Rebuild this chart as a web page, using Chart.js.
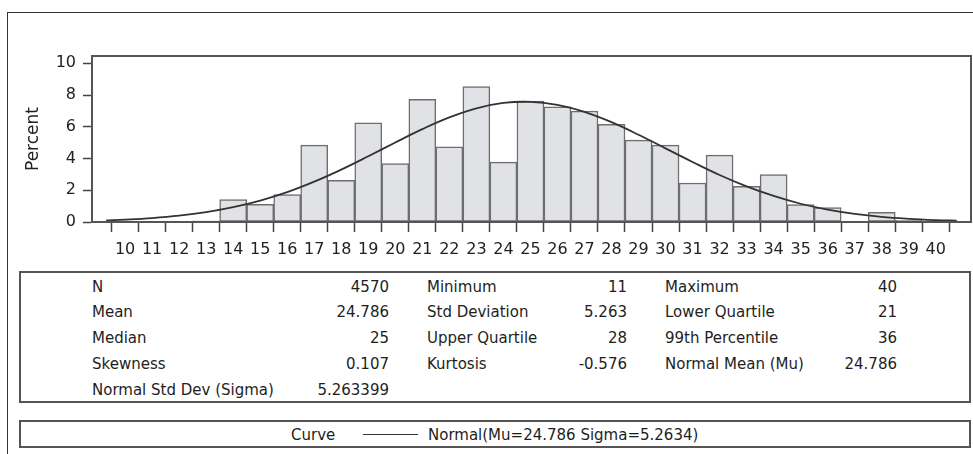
<!DOCTYPE html>
<html lang="en">
<head>
    <meta charset="UTF-8">
    <title>Distribution of Score</title>
    <script src="https://cdn.jsdelivr.net/npm/chart.js"></script>
    <style>
        html, body { margin: 0; padding: 0; background: #fff; overflow: hidden; }
        body { width: 973px; height: 454px; position: relative; font-family: "DejaVu Sans", sans-serif; color: #1e1e1e; }
        #outer { position: absolute; left: 7px; top: 12px; width: 990px; height: 500px; border: 1.5px solid #333; box-sizing: border-box; }
        #chartBox { position: absolute; left: 0; top: 0; }
        .box { position: absolute; left: 19px; width: 952px; border: 2px solid #555; box-sizing: border-box; }
        .cell { position: absolute; font-size: 15px; line-height: 18px; white-space: nowrap; }
        .legline { position: absolute; height: 0; border-top: 1.5px solid #333; }
    </style>
</head>
<body>
    <div id="outer"></div>
    <canvas id="chartBox" width="973" height="262"></canvas>
    <div class="box" style="top:271px;height:132px;"></div>
    <div class="box" style="top:420px;height:28px;"></div>
    <div id="stats"></div>
    <div id="legend"></div>

    <script>
        // histogram bins (percent)
        const bins = [10, 11, 12, 13, 14, 15, 16, 17, 18, 19, 20, 21, 22, 23, 24, 25,
                      26, 27, 28, 29, 30, 31, 32, 33, 34, 35, 36, 37, 38, 39, 40];
        const percents = [0.06, 0.03, 0.05, 0.08, 1.41, 1.12, 1.73, 4.84, 2.63, 6.25, 3.68, 7.73, 4.74, 8.53, 3.77, 7.62,
                          7.26, 6.99, 6.15, 5.16, 4.84, 2.46, 4.21, 2.25, 2.99, 1.09, 0.91, 0, 0.61, 0.1, 0.05];

        // fitted normal curve
        const curveX = [9.3, 10, 11, 12, 13, 14, 15, 16, 17, 18, 19, 20, 21, 22, 23, 24, 25,
                        26, 27, 28, 29, 30, 31, 32, 33, 34, 35, 36, 37, 38, 39, 40, 40.78];
        const curveY = [0.10, 0.15, 0.25, 0.40, 0.62, 0.93, 1.35, 1.88, 2.54, 3.30, 4.14, 5.01, 5.85, 6.59, 7.16, 7.50, 7.57,
                        7.38, 6.94, 6.29, 5.50, 4.64, 3.78, 2.96, 2.24, 1.64, 1.15, 0.78, 0.51, 0.32, 0.20, 0.12, 0.08];

        const xTicks = bins;
        const yTicks = [0, 2, 4, 6, 8, 10];

        // summary statistics table, three column groups
        const statCol1 = [['N', '4570'], ['Mean', '24.786'], ['Median', '25'], ['Skewness', '0.107'], ['Normal Std Dev (Sigma)', '5.263399']];
        const statCol2 = [['Minimum', '11'], ['Std Deviation', '5.263'], ['Upper Quartile', '28'], ['Kurtosis', '-0.576']];
        const statCol3 = [['Maximum', '40'], ['Lower Quartile', '21'], ['99th Percentile', '36'], ['Normal Mean (Mu)', '24.786']];
        const legendTitle = 'Curve';
        const legendLabel = 'Normal(Mu=24.786 Sigma=5.2634)';

        // build the stats table
        const stats = document.getElementById('stats');
        const cols = [
            { rows: statCol1, labelX: 92, valueRight: 389 },
            { rows: statCol2, labelX: 427, valueRight: 627 },
            { rows: statCol3, labelX: 665, valueRight: 897 }
        ];
        cols.forEach(col => {
            col.rows.forEach((r, i) => {
                const top = 286.5 + i * 25.8 - 9;
                const lab = document.createElement('div');
                lab.className = 'cell';
                lab.style.left = col.labelX + 'px';
                lab.style.top = top + 'px';
                lab.textContent = r[0];
                stats.appendChild(lab);
                const val = document.createElement('div');
                val.className = 'cell';
                val.style.right = (973 - col.valueRight) + 'px';
                val.style.top = top + 'px';
                val.textContent = r[1];
                stats.appendChild(val);
            });
        });

        const legend = document.getElementById('legend');
        legend.innerHTML =
            '<div class="cell" style="left:291px;top:426px;">' + legendTitle + '</div>' +
            '<div class="legline" style="left:363px;top:434px;width:55px;"></div>' +
            '<div class="cell" style="left:428px;top:426px;">' + legendLabel + '</div>';

        // frame around the plot area
        const plotFrame = {
            id: 'plotFrame',
            afterDraw(chart) {
                const a = chart.chartArea;
                const c = chart.ctx;
                c.save();
                c.strokeStyle = '#555';
                c.lineWidth = 2;
                c.strokeRect(a.left, a.top, a.right - a.left, a.bottom - a.top);
                c.restore();
            }
        };

        const ctx = document.getElementById('chartBox').getContext('2d');
        const chart = new Chart(ctx, {
            type: 'bar',
            data: {
                datasets: [{
                    type: 'line',
                    label: 'Normal',
                    data: curveX.map((x, i) => ({ x: x, y: curveY[i] })),
                    borderColor: '#333',
                    borderWidth: 1.8,
                    pointRadius: 0,
                    tension: 0.4,
                    fill: false,
                    order: 0
                }, {
                    label: 'Percent',
                    data: bins.map((b, i) => ({ x: b, y: percents[i] })),
                    backgroundColor: '#e1e2e5',
                    borderColor: '#6e6e6e',
                    borderWidth: 1.5,
                    borderSkipped: false,
                    barPercentage: 1,
                    categoryPercentage: 1,
                    order: 1
                }]
            },
            options: {
                responsive: false,
                animation: false,
                devicePixelRatio: 1,
                layout: { padding: { top: 56, right: 2, left: 0, bottom: 0 } },
                plugins: { legend: { display: false }, tooltip: { enabled: false } },
                scales: {
                    x: {
                        type: 'linear',
                        min: 9.3,
                        max: 40.78,
                        afterBuildTicks: s => { s.ticks = xTicks.map(v => ({ value: v })); },
                        afterFit: s => { s.height = 40; },
                        grid: { drawOnChartArea: false, tickLength: 10, color: '#444', tickWidth: 1.5 },
                        border: { color: '#555', width: 2 },
                        ticks: {
                            autoSkip: false,
                            maxRotation: 0,
                            padding: 8,
                            color: '#222',
                            font: { family: 'DejaVu Sans', size: 16 }
                        }
                    },
                    y: {
                        min: 0,
                        max: 10.46,
                        afterBuildTicks: s => { s.ticks = yTicks.map(v => ({ value: v })); },
                        afterFit: s => { s.width = 92; },
                        grid: { drawOnChartArea: false, tickLength: 9, color: '#444', tickWidth: 1.5 },
                        border: { color: '#555', width: 2 },
                        ticks: {
                            padding: 7,
                            color: '#222',
                            font: { family: 'DejaVu Sans', size: 16 }
                        },
                        title: {
                            display: true,
                            text: 'Percent',
                            color: '#222',
                            padding: { top: 23, bottom: 0 },
                            font: { family: 'DejaVu Sans', size: 17 }
                        }
                    }
                }
            },
            plugins: [plotFrame]
        });
    </script>
</body>
</html>
